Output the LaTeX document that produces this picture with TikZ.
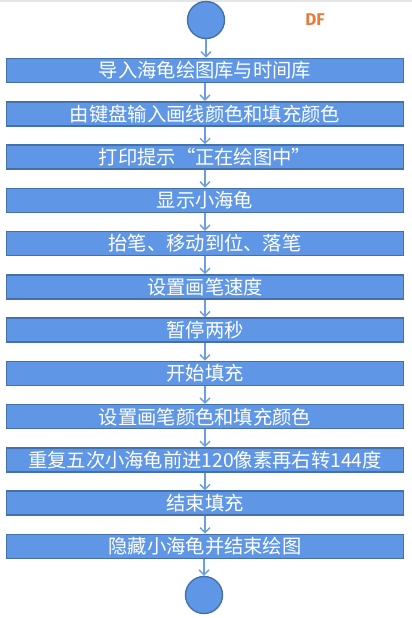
\documentclass[tikz,border=0pt]{standalone}
\usepackage{fontspec}
\setmainfont{Noto Sans CJK SC}
\newfontfamily\markfont{Fira Sans}
\usetikzlibrary{positioning,arrows.meta}

\definecolor{boxfill}{HTML}{5F97E6}
\definecolor{boxline}{HTML}{4571AA}
\definecolor{flowline}{HTML}{6A9EE0}
\definecolor{markorange}{HTML}{E97B3A}

\tikzset{
    stepbox/.style={rectangle,draw=boxline,fill=boxfill,line width=1.6pt,minimum width=397pt,minimum height=24pt,inner sep=0pt,text=white,font=\fontsize{19.3}{21}\selectfont},
    endpoint/.style={circle,draw=boxline,fill=boxfill,line width=1.4pt,minimum size=37pt,inner sep=0pt},
    flow/.style={draw=flowline,line width=1.4pt,-{Straight Barb[length=5pt,width=10pt]}}
}

\begin{document}
\begin{tikzpicture}[x=1pt,y=1pt]
\useasboundingbox (0,0) rectangle (412,-618);
\fill[black!10] (0,0) rectangle (412,-2.5);

\node[endpoint] (start) at (206,-20) {};
\node[font=\markfont\bfseries\fontsize{17}{18}\selectfont,text=markorange] (mark) at (315,-20) {DF};

\foreach \i/\label in {1/导入海龟绘图库与时间库, 2/由键盘输入画线颜色和填充颜色, 3/打印提示“正在绘图中”, 4/显示小海龟, 5/抬笔、移动到位、落笔, 6/设置画笔速度, 7/暂停两秒, 8/开始填充, 9/设置画笔颜色和填充颜色, 10/重复五次小海龟前进120像素再右转144度, 11/结束填充, 12/隐藏小海龟并结束绘图} {
    \node[stepbox] (b\i) at (205,{-70.5-43.27*(\i-1)}) {\label};
}

\node[endpoint] (stop) at (204,-595) {};

\draw[flow] (start) -- (start |- b1.north);
\foreach \i in {1,...,11} {
    \pgfmathtruncatemacro{\next}{\i+1}
    \draw[flow] (b\i) -- (b\next);
}
\draw[flow] (b12.south -| stop) -- (stop);
\end{tikzpicture}
\end{document}
